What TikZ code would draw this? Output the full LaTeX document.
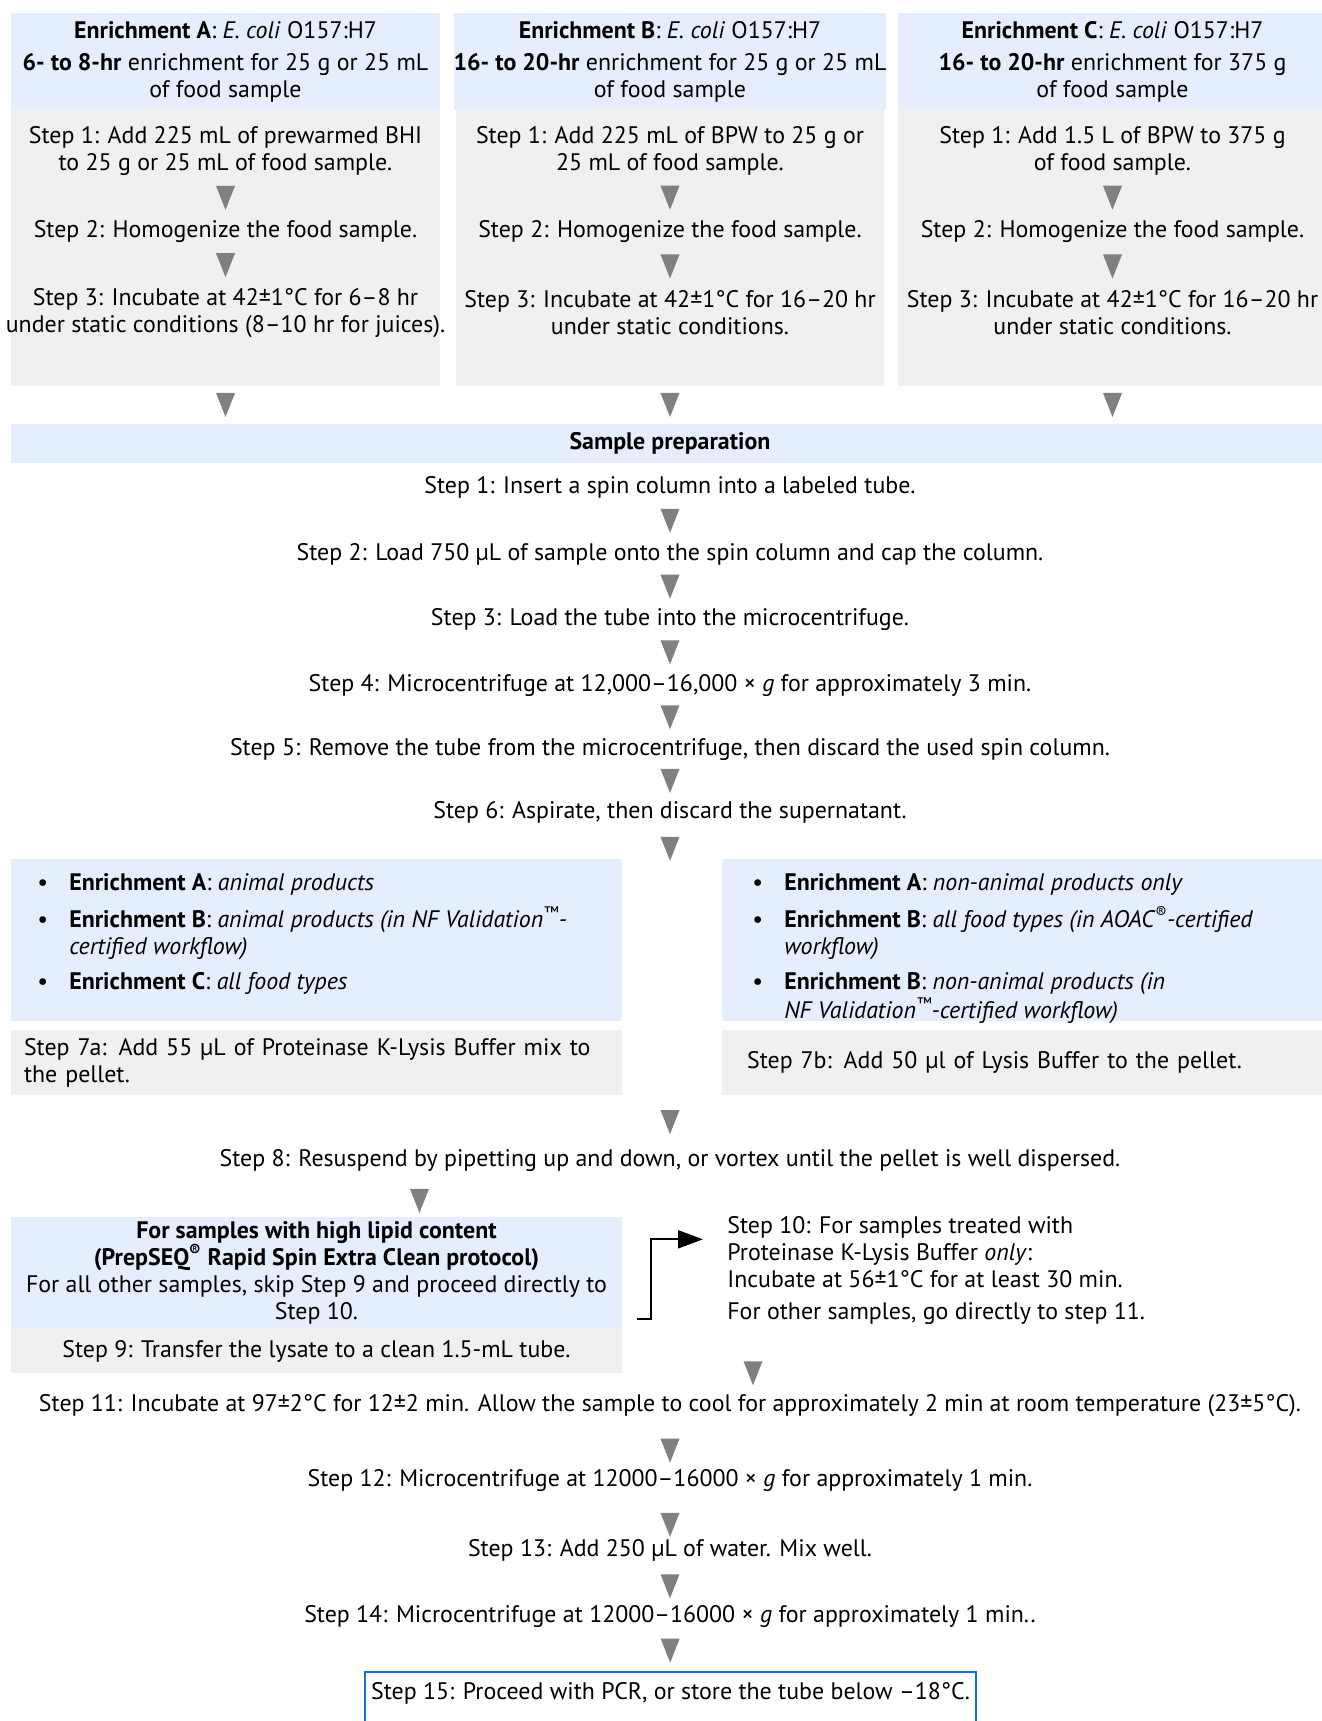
\documentclass[tikz,border=0pt]{standalone}
\usepackage{fontspec}
\setmainfont{PT Sans}
\usetikzlibrary{arrows.meta}
\definecolor{boxblue}{RGB}{228,238,252}
\definecolor{boxgray}{RGB}{240,240,240}
\definecolor{trigray}{RGB}{128,128,128}
\definecolor{pcrblue}{RGB}{20,110,230}
\tikzstyle{hdrbox} = [rectangle, fill=boxblue, minimum width=8.58cm, minimum height=1.94cm, inner sep=0, align=center]
\tikzstyle{colbox} = [rectangle, fill=boxgray, minimum width=8.58cm, minimum height=5.52cm, inner sep=0]
\tikzstyle{graybox} = [rectangle, fill=boxgray, minimum height=1.3cm, inner ysep=0, align=left]
\tikzstyle{txt} = [inner sep=0, align=center, yshift=-0.066cm]
\tikzstyle{ltxt} = [inner sep=0, align=left, anchor=north west, yshift=-0.066cm]
\tikzstyle{tri} = [minimum width=0.38cm, minimum height=0.48cm, inner sep=0, outer sep=0,
  path picture={\fill[trigray] (path picture bounding box.north west) -- (path picture bounding box.north east) -- (path picture bounding box.south) -- cycle;}]
\tikzstyle{elbow} = [line width=0.04cm, -{Triangle[length=0.5cm, width=0.36cm]}]

\begin{document}
\begin{tikzpicture}[x=0.02cm, y=-0.02cm, font=\fontsize{13.6}{15.4}\selectfont]
\useasboundingbox (0,0) rectangle (1322,1721);

% enrichment columns
\node (hdrA) [hdrbox] at (225.5,61.5) {\textbf{Enrichment A}: \textit{E. coli} O157:H7\\[0.1cm]\textbf{6- to 8-hr} enrichment for 25 g or 25 mL\\of food sample};
\node (hdrB) [hdrbox] at (670,61.5) {\textbf{Enrichment B}: \textit{E. coli} O157:H7\\[0.1cm]\textbf{16- to 20-hr} enrichment for 25 g or 25 mL\\of food sample};
\node (hdrC) [hdrbox] at (1112.5,61.5) {\textbf{Enrichment C}: \textit{E. coli} O157:H7\\[0.1cm]\textbf{16- to 20-hr} enrichment for 375 g\\of food sample};
\node (bodyA) [colbox] at (225.5,248) {};
\node (bodyB) [colbox] at (670,248) {};
\node (bodyC) [colbox] at (1112.5,248) {};

\node (a1) [txt] at (225.5,147.5) {Step 1: Add 225 mL of prewarmed BHI\\to 25 g or 25 mL of food sample.};
\node (a2) [txt] at (225.5,228) {Step 2: Homogenize the food sample.};
\node (a3) [txt] at (225.5,309.5) {Step 3: Incubate at 42±1°C for 6–8 hr\\under static conditions (8–10 hr for juices).};
\node (b1) [txt] at (670,147.5) {Step 1: Add 225 mL of BPW to 25 g or\\25 mL of food sample.};
\node (b2) [txt] at (670,228) {Step 2: Homogenize the food sample.};
\node (b3) [txt] at (670,309.5) {Step 3: Incubate at 42±1°C for 16–20 hr\\under static conditions.};
\node (c1) [txt] at (1112.5,147.5) {Step 1: Add 1.5 L of BPW to 375 g\\of food sample.};
\node (c2) [txt] at (1112.5,228) {Step 2: Homogenize the food sample.};
\node (c3) [txt] at (1112.5,309.5) {Step 3: Incubate at 42±1°C for 16–20 hr\\under static conditions.};

\path (a1) -- node[tri] {} (a2);
\path (a2) -- node[tri] {} (a3);
\path (b1) -- node[tri] {} (b2);
\path (b2) -- node[tri] {} (b3);
\path (c1) -- node[tri] {} (c2);
\path (c2) -- node[tri] {} (c3);

% sample preparation
\node (prep) [hdrbox, minimum width=26.36cm, minimum height=0.78cm] at (670,443.5) {\textbf{Sample preparation}};
\path (bodyA) -- node[tri] {} (bodyA |- prep.north);
\path (bodyB) -- node[tri] {} (bodyB |- prep.north);
\path (bodyC) -- node[tri] {} (bodyC |- prep.north);

\node (s1) [txt] at (670,484) {Step 1: Insert a spin column into a labeled tube.};
\node (s2) [txt] at (670,551) {Step 2: Load 750 µL of sample onto the spin column and cap the column.};
\node (s3) [txt] at (670,616) {Step 3: Load the tube into the microcentrifuge.};
\node (s4) [txt] at (670,682) {Step 4: Microcentrifuge at 12,000–16,000 × \textit{g} for approximately 3 min.};
\node (s5) [txt] at (670,746) {Step 5: Remove the tube from the microcentrifuge, then discard the used spin column.};
\node (s6) [txt] at (670,809) {Step 6: Aspirate, then discard the supernatant.};
\path (s1) -- node[tri] {} (s2);
\path (s2) -- node[tri] {} (s3);
\path (s3) -- node[tri] {} (s4);
\path (s4) -- node[tri] {} (s5);
\path (s5) -- node[tri] {} (s6);

% food type split
\node (listL) [rectangle, fill=boxblue, minimum width=12.22cm, minimum height=3.24cm] at (316.5,940) {};
\node (listR) [rectangle, fill=boxblue, minimum width=12.16cm, minimum height=3.24cm] at (1026,940) {};
\node (itemsL) [ltxt] at (37,868) {\begin{tabular}{@{}p{0.64cm}@{}l@{}}
  • & \textbf{Enrichment A}: \textit{animal products}\\[0.16cm]
  • & \textbf{Enrichment B}: \textit{animal products (in NF Validation\textsuperscript{™}-}\\
    & \textit{certified workflow)}\\[0.16cm]
  • & \textbf{Enrichment C}: \textit{all food types}
\end{tabular}};
\node (itemsR) [ltxt] at (752,868) {\begin{tabular}{@{}p{0.64cm}@{}l@{}}
  • & \textbf{Enrichment A}: \textit{non-animal products only}\\[0.16cm]
  • & \textbf{Enrichment B}: \textit{all food types (in AOAC\textsuperscript{®}-certified}\\
    & \textit{workflow)}\\[0.16cm]
  • & \textbf{Enrichment B}: \textit{non-animal products (in}\\
    & \textit{NF Validation\textsuperscript{™}-certified workflow)}
\end{tabular}};
\node (box7a) [graybox, minimum width=12.22cm, text width=11.7cm, inner xsep=0.26cm] at (316.5,1062.5) {Step 7a: Add 55 µL of Proteinase K-Lysis Buffer mix to\\the pellet.};
\node (box7b) [graybox, minimum width=12.16cm, text width=11.16cm, inner xsep=0.5cm] at (1026,1062.5) {Step 7b: Add 50 µl of Lysis Buffer to the pellet.};
\path (s6) -- node[tri, pos=0.72] {} (s6 |- listL.north);

\node (s8) [txt] at (670,1157) {Step 8: Resuspend by pipetting up and down, or vortex until the pellet is well dispersed.};
\path (s8 |- box7a.south) -- node[tri] {} (s8);

% lipid branch
\node (lipid) [hdrbox, minimum width=12.22cm, minimum height=2.24cm] at (316.5,1273) {\textbf{For samples with high lipid content}\\\textbf{(PrepSEQ\textsuperscript{®} Rapid Spin Extra Clean protocol)}\\For all other samples, skip Step 9 and proceed directly to\\Step 10.};
\node (box9) [rectangle, fill=boxgray, minimum width=12.22cm, minimum height=0.88cm, inner sep=0] at (316.5,1351) {Step 9: Transfer the lysate to a clean 1.5-mL tube.};
\path ([xshift=2.06cm]lipid.north |- s8.south) -- node[tri, pos=0.65] {} ([xshift=2.06cm]lipid.north);

\node (s10) [ltxt] at (727,1213) {Step 10: For samples treated with\\Proteinase K-Lysis Buffer \textit{only}:\\Incubate at 56±1°C for at least 30 min.\\[0.1cm]For other samples, go directly to step 11.};
\draw [elbow] ([shift={(15,-10)}]lipid.south east) -- ++(14,0) |- ([shift={(-24,23)}]s10.north west);

% final steps
\node (s11) [txt] at (670,1402) {Step 11: Incubate at 97±2°C for 12±2 min. Allow the sample to cool for approximately 2 min at room temperature (23±5°C).};
\node (s12) [txt] at (670,1477) {Step 12: Microcentrifuge at 12000–16000 × \textit{g} for approximately 1 min.};
\node (s13) [txt] at (670,1547) {Step 13: Add 250 µL of water. Mix well.};
\node (s14) [txt] at (670,1613) {Step 14: Microcentrifuge at 12000–16000 × \textit{g} for approximately 1 min..};
\node (s15) [draw=pcrblue, line width=0.04cm, minimum width=12.22cm, inner xsep=0.1cm, inner ysep=0.2cm, text depth=1.2cm, anchor=north] at (670.5,1671) {Step 15: Proceed with PCR, or store the tube below –18°C.};
\path ([xshift=0.52cm]s10.south west) -- node[tri, pos=0.7] {} ([xshift=0.52cm]s10.south west |- s11.north);
\path (s11) -- node[tri, pos=0.65] {} (s12);
\path (s12) -- node[tri, pos=0.7] {} (s13);
\path (s13) -- node[tri, pos=0.57] {} (s14);
\path (s14) -- node[tri, pos=0.53] {} (s15);
\end{tikzpicture}
\end{document}
